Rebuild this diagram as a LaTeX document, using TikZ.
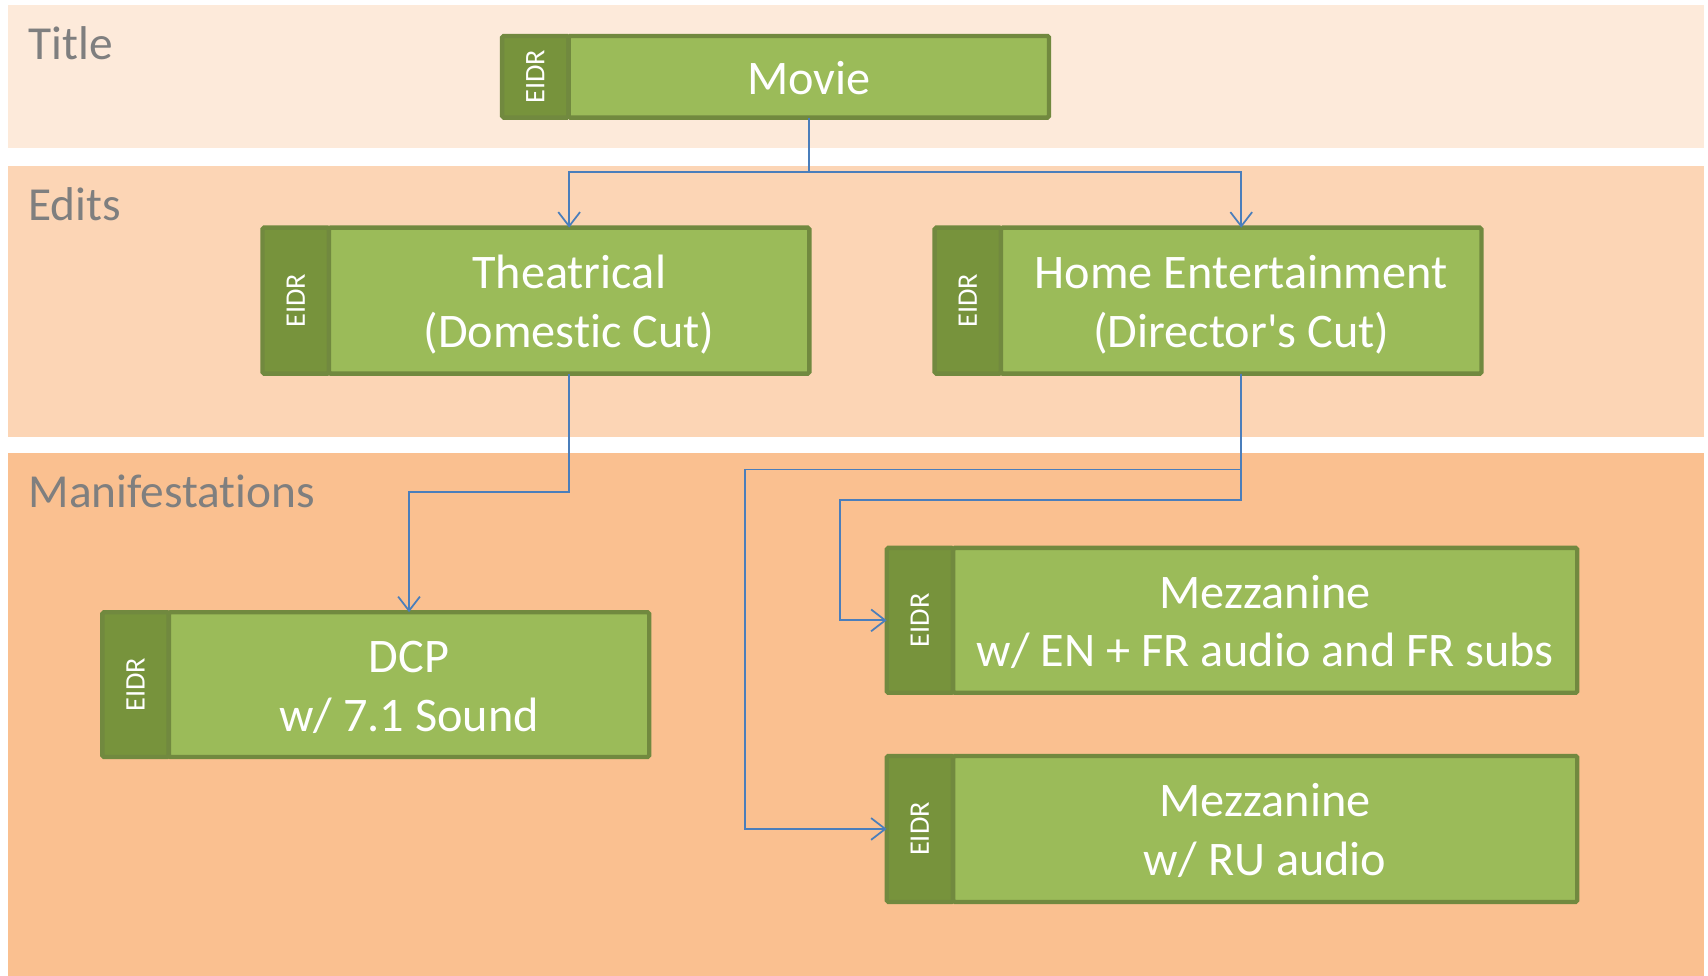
\documentclass[tikz,border=0pt]{standalone}
\usepackage{fontspec}
\usepackage{graphicx}
\setmainfont{Carlito}[Ligatures={NoCommon,NoRare}]
\usetikzlibrary{arrows.meta}
\definecolor{bandA}{HTML}{FDEADA}
\definecolor{bandB}{HTML}{FCD5B5}
\definecolor{bandC}{HTML}{FAC090}
\definecolor{boxgreen}{HTML}{9BBB59}
\definecolor{stripgreen}{HTML}{77933C}
\definecolor{edgegreen}{HTML}{71893F}
\definecolor{lblgray}{HTML}{7F7F7F}
\definecolor{connblue}{HTML}{4A7EBB}
\tikzset{
  bandlabel/.style={text=lblgray, font=\fontsize{43.5}{52}\selectfont, inner sep=0pt, anchor=base west},
  mainbox/.style={draw=edgegreen, fill=boxgreen, line width=4pt, text=white, align=center,
    font=\fontsize{44.3}{54}\selectfont, inner sep=0pt, outer sep=0pt, anchor=north west, rounded corners=1.5pt},
  stripbox/.style={draw=edgegreen, fill=stripgreen, line width=4pt, text=white,
    font=\fontsize{26}{30}\selectfont, inner sep=0pt, outer sep=0pt, anchor=north west, rounded corners=1.5pt},
  conn/.style={draw=connblue, line width=1.6pt, -{Straight Barb[length=13pt,width=20pt,line width=1.6pt]}}
}
\newcommand\eidrbox[6]{%
  \node[stripbox, minimum width=61, minimum height=#5-#4] (#1id) at (#2,#4) {\rotatebox{90}{EIDR}};
  \node[mainbox, minimum width=#3-#2-61, minimum height=#5-#4] (#1) at (#2+61,#4) {\raisebox{-5pt}[\height][\depth]{\begin{tabular}{@{}c@{}}#6\end{tabular}}};
}
\begin{document}
\begin{tikzpicture}[x=1pt,y=-1pt]
\useasboundingbox (0,0) rectangle (1568,896);
\fill[white] (0,0) rectangle (1568,896);
\fill[bandA] (7,5) rectangle (1564,136);
\fill[bandB] (7,152) rectangle (1564,401);
\fill[bandC] (7,416) rectangle (1564,896);
\node[bandlabel] (ltitle) at (26,55) {Title};
\node[bandlabel] (ledits) at (26,202) {Edits};
\node[bandlabel] (lmani) at (26,466) {Manifestations};

\renewcommand{\arraystretch}{1}
\setlength{\tabcolsep}{0pt}
\eidrbox{movie}{461}{963}{33}{108}{Movie}
\eidrbox{theat}{241}{743}{209}{343}{Theatrical\\(Domestic Cut)}
\eidrbox{home}{858}{1360}{209}{343}{Home Entertainment\\(Director\textquotesingle s Cut)}
\eidrbox{dcp}{94}{596}{562}{695}{DCP\\w/ 7.1 Sound}
\eidrbox{mezzA}{814}{1448}{503}{636}{Mezzanine\\w/ EN + FR audio and FR subs}
\eidrbox{mezzB}{814}{1448}{694}{828}{Mezzanine\\w/ RU audio}

\draw[conn] (movie.south) -- ++(0,50) -| (theat.north);
\draw[conn] (movie.south) -- ++(0,50) -| (home.north);
\draw[conn] (theat.south) -- ++(0,109) -| (dcp.north);
\draw[conn] (home.south) -- ++(0,116) -| ([xshift=-43pt]mezzAid.west) -- (mezzAid.west);
\draw[conn] (home.south) -- ++(0,88) -| ([xshift=-130pt]mezzBid.west) -- (mezzBid.west);
\end{tikzpicture}
\end{document}
